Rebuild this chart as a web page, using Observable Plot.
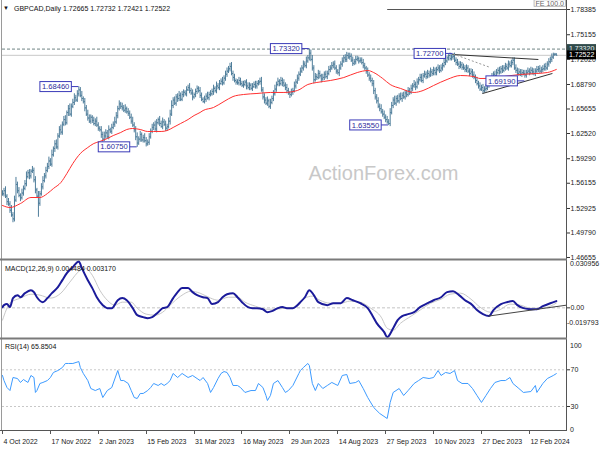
<!DOCTYPE html>
<html>
<head>
<meta charset="utf-8">
<script src="https://cdn.jsdelivr.net/npm/d3@7"></script>
<script src="https://cdn.jsdelivr.net/npm/@observablehq/plot@0.6"></script>
<style>
html,body{margin:0;padding:0;background:#fff;}
#chart{position:relative;width:600px;height:450px;overflow:hidden;background:#fff;}
#chart svg{position:absolute;left:0;}
</style>
</head>
<body>
<div id="chart"></div>
<script>
// ---------- DATA ----------
const symbol = "GBPCAD,Daily";
const lastBar = {open: 1.72665, high: 1.72732, low: 1.72421, close: 1.72522};

// daily closes, bar 0 = 4 Oct 2022
const closes = [
1.548,1.552,1.545,1.538,1.535,1.527,1.521,1.516,1.540,1.560,
1.552,1.546,1.543,1.549,1.555,1.561,1.570,1.575,1.571,1.577,
1.578,1.566,1.553,1.545,1.536,1.548,1.557,1.565,1.571,1.578,
1.583,1.590,1.586,1.598,1.606,1.612,1.608,1.622,1.630,1.627,
1.637,1.643,1.639,1.652,1.657,1.650,1.660,1.665,1.671,1.668,
1.676,1.681,1.674,1.670,1.666,1.658,1.650,1.645,1.641,1.646,
1.642,1.638,1.641,1.636,1.632,1.630,1.624,1.618,1.622,1.626,
1.621,1.630,1.628,1.633,1.637,1.640,1.648,1.657,1.663,1.660,
1.658,1.655,1.657,1.653,1.651,1.646,1.641,1.636,1.630,1.621,
1.613,1.618,1.624,1.617,1.620,1.616,1.612,1.614,1.621,1.628,
1.633,1.636,1.631,1.639,1.643,1.638,1.634,1.640,1.637,1.632,
1.634,1.641,1.650,1.661,1.668,1.664,1.672,1.670,1.674,1.669,
1.675,1.678,1.676,1.681,1.684,1.680,1.677,1.672,1.675,1.679,
1.683,1.680,1.674,1.669,1.666,1.669,1.673,1.671,1.675,1.676,
1.679,1.683,1.680,1.686,1.684,1.689,1.692,1.690,1.696,1.701,
1.705,1.708,1.711,1.702,1.697,1.693,1.691,1.690,1.693,1.689,
1.687,1.688,1.691,1.686,1.684,1.687,1.683,1.685,1.688,1.686,
1.689,1.691,1.692,1.681,1.672,1.668,1.664,1.667,1.660,1.665,
1.670,1.676,1.682,1.688,1.692,1.689,1.693,1.690,1.687,1.684,
1.680,1.677,1.675,1.678,1.680,1.686,1.691,1.696,1.701,1.705,
1.709,1.714,1.712,1.718,1.722,1.728,1.720,1.709,1.694,1.698,
1.697,1.702,1.699,1.695,1.697,1.701,1.698,1.702,1.707,1.709,
1.712,1.714,1.709,1.705,1.703,1.709,1.714,1.718,1.722,1.720,
1.725,1.723,1.724,1.719,1.715,1.717,1.720,1.721,1.718,1.719,
1.716,1.712,1.709,1.705,1.700,1.696,1.693,1.689,1.680,1.672,
1.667,1.660,1.657,1.653,1.650,1.646,1.643,1.640,1.638,1.652,
1.661,1.668,1.664,1.670,1.667,1.673,1.670,1.674,1.672,1.677,
1.675,1.680,1.678,1.683,1.686,1.688,1.685,1.691,1.694,1.697,
1.693,1.699,1.701,1.698,1.702,1.700,1.704,1.702,1.706,1.703,
1.707,1.709,1.706,1.709,1.712,1.716,1.718,1.722,1.725,1.721,
1.723,1.724,1.719,1.716,1.714,1.711,1.713,1.710,1.709,1.707,
1.709,1.705,1.702,1.704,1.700,1.697,1.693,1.689,1.686,1.682,
1.684,1.680,1.682,1.683,1.687,1.690,1.694,1.698,1.701,1.699,
1.703,1.706,1.704,1.708,1.706,1.709,1.711,1.709,1.714,1.712,
1.716,1.719,1.709,1.706,1.702,1.704,1.701,1.703,1.702,1.700,
1.703,1.705,1.703,1.706,1.704,1.702,1.705,1.707,1.708,1.705,
1.707,1.708,1.711,1.709,1.714,1.717,1.720,1.723,1.726,1.7267,1.72522
];
// wick above max(open,close) and below min(open,close), in units of 0.001
const upperWick = [
4,3,5,2,4,3,6,3,5,9, 3,4,2,5,3,4,6,3,4,2, 5,3,4,2,6,3,4,5,3,4, 4,5,3,6,2,4,5,3,4,6,
3,4,5,2,4,6,3,4,5,3, 4,4,3,5,2,4,3,5,4,3, 2,4,3,5,3,2,4,3,5,4, 3,5,2,4,3,6,4,3,4,2,
4,3,5,2,4,3,4,5,3,4, 5,3,4,2,3,5,4,3,4,3, 4,3,5,4,2,4,3,5,3,4, 3,4,5,6,3,4,3,4,5,3,
4,3,2,4,3,5,3,4,2,3, 3,2,4,3,2,4,3,5,3,4, 3,4,2,5,3,4,3,5,3,4, 4,3,4,5,3,4,2,3,4,3,
3,4,2,3,4,3,2,4,3,4, 3,2,4,5,3,4,3,5,2,4, 3,4,5,3,4,2,4,3,4,3, 4,3,2,4,3,5,3,4,3,4,
3,4,3,5,3,5,4,5,3,4, 3,4,3,2,4,3,4,3,4,3, 4,3,4,3,2,4,3,4,3,4, 4,3,4,3,4,3,4,3,2,3,
3,4,3,2,4,3,4,3,4,3, 3,4,3,5,3,4,3,4,3,5, 4,3,5,3,4,3,4,3,4,3, 3,4,3,4,3,5,3,4,3,4,
4,3,4,3,4,3,5,3,4,3, 3,4,3,4,3,4,3,2,1,3, 3,3,4,3,4,3,4,3,4,3, 4,3,3,4,3,4,3,4,3,4,
3,4,3,5,3,4,3,4,3,4, 4,3,4,3,4,3,4,3,4,3, 3,3,3,4,3,4,3,4,3,4, 3,4,3,4,3,4,3,4,3,4,
3,4,3,4,3,4,3,4,2,1,0.6
];
const lowerWick = [
3,4,3,5,3,4,3,5,4,3, 4,3,5,3,4,3,4,3,5,4, 3,4,5,3,18,4,3,4,3,4, 3,4,3,4,3,5,3,4,3,4,
4,3,4,3,5,3,4,3,4,3, 3,4,3,4,3,5,3,4,3,4, 4,3,4,3,4,3,5,4,3,4, 3,4,3,4,3,4,3,4,3,4,
4,3,4,3,4,3,4,3,4,5, 5.5,3,4,3,4,3,4,3,4,3, 3,4,3,5,3,4,2,4,3,4, 4,3,5,3,4,3,4,5,4,3,
3,4,3,4,2,4,3,5,3,4, 4,3,4,3,2,3,4,3,4,3, 3,5,3,4,3,4,2,4,3,4, 4,3,4,3,5,3,4,3,4,3,
3,4,3,5,3,4,3,4,2,4, 4,3,4,3,4,5,3,4,3,4, 3,4,3,4,3,4,3,5,3,4, 4,3,5,3,4,3,4,3,4,3,
3,4,3,4,3,4,3,4,5,3, 4,3,4,5,3,4,3,4,3,4, 3,4,3,4,3,5,3,4,3,4, 4,3,4,3,4,3,4,3,4,3,
3,4,3,4,3,4,3,4,5,4, 4,3,4,3,4,3,4,3,2.5,4, 3,4,3,4,3,4,3,5,3,4, 4,3,4,3,4,3,5,3,4,3,
3,4,3,4,3,4,3,4,3,4, 4,3,4,3,4,3,4,3,4,3, 3,4,3,4,3,4,3,4,3,4, 4,3,4,3,4,3,4,3,4,3,
3,4,3,4,3,4,3,4,3,4, 4,3,4,3,4,3,4,3,4,3, 3,4,3,4,3,4,3,4,3,4, 4,3,4,3,4,3,4,3,4,3,
3,4,3,4,3,4,3,4,3,2,1
];

// moving average (red) read at selected bars
const maIdx = [0,5,12,19,25,30,34,39,43,47,52,57,61,65,70,74,79,83,87,92,97,101,106,110,114,119,124,128,132,134,141,148,154,161,170,179,188,197,204,210,219,228,237,244,248,254,259,266,275,281,288,297,306,315,319,326,335,346,357,364,370];
const maVal = [1.5331,1.5305,1.5356,1.5433,1.5433,1.5484,1.5548,1.5625,1.5740,1.5868,1.5996,1.6073,1.6124,1.6150,1.6188,1.6226,1.6265,1.6303,1.6316,1.6303,1.6278,1.6278,1.6278,1.6290,1.6329,1.6380,1.6431,1.6482,1.6521,1.6546,1.6585,1.6662,1.6725,1.6751,1.6764,1.6777,1.6777,1.6802,1.6879,1.6905,1.6930,1.6968,1.7032,1.7058,1.7032,1.6956,1.6879,1.6828,1.6777,1.6802,1.6866,1.6943,1.6994,1.6981,1.6956,1.6956,1.6981,1.7007,1.7020,1.7032,1.7071];

// MACD(12,26,9) main line and signal line
const macdIdx = [0,1,3,5,7,10,12,15,19,21,23,27,30,33,37,40,43,47,50,51,53,57,60,63,67,70,73,77,80,83,87,90,94,97,100,104,107,110,114,117,120,124,127,130,134,137,140,144,147,150,154,157,160,164,167,170,174,177,180,184,187,190,194,197,199,202,205,208,211,217,221,226,230,234,239,244,247,250,255,257,261,264,267,271,275,279,284,288,293,297,301,305,309,314,317,321,325,328,333,337,341,344,348,353,357,361,366,370];
const macdVal = [0.0005,0.0018,0.0025,0.0005,0.0065,0.0085,0.0071,0.0098,0.0118,0.0105,0.0071,0.0038,0.0065,0.0098,0.0138,0.0185,0.0232,0.0272,0.0305,0.0309,0.0265,0.0185,0.0132,0.0071,0.0018,-0.0002,-0.0002,0.0051,0.0065,0.0051,-0.0002,-0.0049,-0.0062,-0.0069,-0.0062,-0.0029,-0.0002,0.0005,0.0065,0.0105,0.0132,0.0132,0.0105,0.0085,0.0071,0.0065,0.0025,0.0038,0.0071,0.0091,0.0098,0.0071,0.0038,0.0005,-0.0002,-0.0002,-0.0009,-0.0029,-0.0022,-0.0002,0.0005,-0.0002,-0.0002,0.0018,0.0038,0.0071,0.0118,0.0085,0.0038,0.0018,0.0031,0.0031,0.0065,0.0051,0.0031,-0.0002,-0.0049,-0.0102,-0.0162,-0.0195,-0.0136,-0.0082,-0.0055,-0.0042,-0.0029,0.0005,0.0031,0.0051,0.0071,0.0105,0.0111,0.0085,0.0051,0.0018,-0.0015,-0.0042,-0.0055,-0.0015,0.0025,0.0038,0.0045,0.0018,-0.0002,-0.0009,-0.0009,0.0011,0.0031,0.0045];
const sigIdx = [0,5,12,19,25,32,39,45,52,55,60,65,70,75,80,86,90,96,102,107,112,119,126,132,139,144,151,157,162,169,176,182,189,196,202,207,212,219,226,232,239,246,253,257,261,266,273,279,286,293,299,306,313,319,326,333,339,346,353,359,366,370];
const sigVal = [-0.0082,0.0031,0.0065,0.0091,0.0085,0.0065,0.0098,0.0172,0.0252,0.0265,0.0218,0.0118,0.0051,0.0018,0.0038,0.0038,-0.0002,-0.0042,-0.0049,-0.0029,0.0018,0.0078,0.0111,0.0098,0.0065,0.0051,0.0071,0.0071,0.0038,0.0011,-0.0009,-0.0009,-0.0002,0.0005,0.0065,0.0078,0.0051,0.0031,0.0031,0.0045,0.0038,-0.0002,-0.0062,-0.0136,-0.0149,-0.0102,-0.0055,-0.0015,0.0031,0.0058,0.0091,0.0098,0.0058,0.0005,-0.0029,-0.0009,0.0025,0.0018,-0.0002,-0.0002,0.0011,0.0032];
const macdRange = [-0.019793, 0.030956];
const macdLast = "0.004484", sigLast = "0.003170";

// RSI(14)
const rsiIdx = [0,1,3,5,7,10,12,14,17,19,21,22,23,25,27,30,32,34,37,40,42,44,47,51,52,54,57,59,62,65,67,70,73,77,79,81,84,86,88,90,92,94,97,99,101,104,106,108,110,112,114,117,120,124,127,130,132,134,137,139,141,144,146,148,150,152,154,157,159,162,166,169,171,174,176,177,179,181,184,187,189,191,194,198,199,201,204,205,207,209,211,214,217,220,224,227,230,232,236,238,241,244,248,252,257,259,261,265,268,271,275,278,281,285,288,291,293,296,299,302,304,307,311,314,317,320,323,326,329,333,336,339,341,345,348,353,356,357,361,364,368,370];
const rsiVal = [63.8,58.3,50.7,47.4,61.6,60.5,56.2,59.4,56.2,63.8,61.6,45.3,47.4,55.1,56.2,58.3,61.6,67.1,69.2,72.5,76.9,76.9,76.9,79.0,72.5,66.0,58.3,49.6,47.4,49.6,39.8,47.4,50.7,69.2,58.3,58.3,55.1,47.4,39.8,38.7,44.2,44.2,47.4,50.7,55.1,52.9,55.1,52.9,55.1,58.3,66.0,61.6,66.0,61.6,63.8,60.5,58.3,61.6,55.1,45.3,50.7,60.5,66.0,68.1,67.1,61.6,52.9,52.9,50.7,45.3,47.4,47.4,55.1,50.7,42.0,36.5,42.0,55.1,58.3,50.7,45.3,47.4,52.9,66.0,69.2,72.5,76.9,74.7,55.1,47.4,55.1,49.6,52.9,56.2,52.9,63.8,64.9,55.1,56.2,58.3,49.6,39.8,28.9,22.4,16.9,34.4,45.3,49.6,42.0,47.4,55.1,58.3,61.6,60.5,61.6,69.2,63.8,67.1,66.0,69.2,58.3,55.1,55.1,49.6,42.0,34.4,42.0,49.6,56.2,58.3,58.3,61.6,55.1,49.6,45.3,46.3,52.9,45.3,55.1,60.5,63.8,65.85];
const rsiLast = "65.8504";
const rsiLevels = [70, 30];
const rsiBounds = [100, 0];

// axis ticks
const priceTicks = [1.78385,1.75155,1.72020,1.68790,1.65655,1.62520,1.59290,1.56155,1.52925,1.49790,1.46655];
const dateIdx = [0,32,64,96,128,160,192,224,256,288,320,352];
const dateLabels = ["4 Oct 2022","17 Nov 2022","2 Jan 2023","15 Feb 2023","31 Mar 2023","16 May 2023","29 Jun 2023","14 Aug 2023","27 Sep 2023","10 Nov 2023","27 Dec 2023","12 Feb 2024"];

// annotations
const swingIdx = [51, 90, 205, 258, 301, 349];
const swingVal = [1.6846, 1.6075, 1.7332, 1.6355, 1.7270, 1.6919];
const resistLevel = 1.73320;
const feLevel = 1.78385, feStartIdx = 257, feLabel = "FE 100.0";
const trendA = {i1: 300.6, v1: 1.7263, i2: 358, v2: 1.7199};
const trendB = {i1: 320.6, v1: 1.6763, i2: 367.4, v2: 1.7020};
const trendDot = {i1: 301, v1: 1.7270, i2: 326, v2: 1.7096};
const macdTrend = {i1: 324.6, v1: -0.0055, i2: 376.8, v2: 0.0018};

// ---------- BUILD ----------
const FONT = "'Liberation Sans', Arial, sans-serif";
const BAR = "#4f7e9b";
const X_DOMAIN = [0, 376.8];
const N = closes.length;
const bars = closes.map((c, i) => {
  if (i === N - 1) return {i, o: lastBar.open, c: lastBar.close, h: lastBar.high, l: lastBar.low};
  const o = i > 0 ? closes[i - 1] : c;
  return {i, o, c, h: Math.max(o, c) + upperWick[i] / 1000, l: Math.min(o, c) - lowerWick[i] / 1000};
});
const ma = maIdx.map((i, k) => ({i, v: maVal[k]}));
const macd = macdIdx.map((i, k) => ({i, v: macdVal[k]}));
const sig = sigIdx.map((i, k) => ({i, v: sigVal[k]}));
const rsi = rsiIdx.map((i, k) => ({i, v: rsiVal[k]}));
const dates = dateIdx.map((i, k) => ({i, label: dateLabels[k]}));
const seg = t => [{x1: t.i1, y1: t.v1, x2: t.i2, y2: t.v2}];

const common = {
  width: 600, marginLeft: 2, marginRight: 34,
  x: {domain: X_DOMAIN, axis: null, label: null},
  style: {fontFamily: FONT, fontSize: "7px", color: "#1a1a1a", background: "transparent", overflow: "visible"}
};

const p1 = Plot.plot({
  ...common, height: 260, marginTop: 2, marginBottom: 2,
  y: {domain: [1.46527, 1.79281], axis: null, label: null},
  marks: [
    Plot.text(["ActionForex.com"], {frameAnchor: "middle", dx: 99, dy: 43, fontSize: 20, fill: "#c8c8c8", fontFamily: FONT}),
    Plot.ruleY([lastBar.close], {stroke: "#c8c8c8", strokeWidth: 1}),
    Plot.ruleY([resistLevel], {stroke: "#4a6464", strokeDasharray: "3,2", strokeWidth: 0.8}),
    Plot.ruleX(bars, {x: "i", y1: "l", y2: "h", stroke: BAR, strokeWidth: 1}),
    Plot.link(bars, {x1: d => d.i - 0.7, x2: "i", y1: "o", y2: "o", stroke: BAR}),
    Plot.link(bars, {x1: "i", x2: d => d.i + 0.7, y1: "c", y2: "c", stroke: BAR}),
    Plot.line(ma, {x: "i", y: "v", stroke: "#ff3030", strokeWidth: 1, curve: "monotone-x"}),
    Plot.link(seg(trendA), {x1: "x1", y1: "y1", x2: "x2", y2: "y2", stroke: "#333", strokeWidth: 1}),
    Plot.link(seg(trendB), {x1: "x1", y1: "y1", x2: "x2", y2: "y2", stroke: "#333", strokeWidth: 1}),
    Plot.link(seg(trendDot), {x1: "x1", y1: "y1", x2: "x2", y2: "y2", stroke: "#999", strokeWidth: 1, strokeDasharray: "2,2"}),
    Plot.link([{x1: feStartIdx, x2: X_DOMAIN[1], y: feLevel}], {x1: "x1", x2: "x2", y1: "y", y2: "y", stroke: "#555", strokeWidth: 1}),
    Plot.axisY({ticks: priceTicks, anchor: "right", label: null, tickSize: 3, tickPadding: 1, tickFormat: d => d.toFixed(5), fontSize: 7, stroke: "#333"})
  ]
});

const p2 = Plot.plot({
  ...common, height: 78, marginTop: 1, marginBottom: 1,
  y: {domain: macdRange, axis: null, label: null},
  marks: [
    Plot.ruleY([0], {stroke: "#c4c4c4", strokeDasharray: "3,2"}),
    Plot.line(sig, {x: "i", y: "v", stroke: "#c8c8c8", strokeWidth: 1, curve: "monotone-x"}),
    Plot.line(macd, {x: "i", y: "v", stroke: "#1b1b9a", strokeWidth: 2, curve: "monotone-x"}),
    Plot.link(seg(macdTrend), {x1: "x1", y1: "y1", x2: "x2", y2: "y2", stroke: "#444", strokeWidth: 1}),
    Plot.axisY({ticks: [0], anchor: "right", label: null, tickSize: 3, tickPadding: 1, tickFormat: () => "0.00", fontSize: 7, stroke: "#333"})
  ]
});

const p3 = Plot.plot({
  ...common, height: 112, marginTop: 3.8, marginBottom: 16.5,
  y: {domain: [0, 100], axis: null, label: null},
  marks: [
    Plot.ruleY(rsiLevels, {stroke: "#c8c8c8", strokeDasharray: "2,2"}),
    Plot.line(rsi, {x: "i", y: "v", stroke: "#3d9bff", strokeWidth: 1}),
    Plot.axisY({ticks: rsiLevels, anchor: "right", label: null, tickSize: 3, tickPadding: 1, fontSize: 7, stroke: "#333"}),
    Plot.text(dates, {x: "i", text: "label", frameAnchor: "bottom", dy: 9.5, dx: 1, textAnchor: "start", fontSize: 7})
  ]
});

const root = document.getElementById("chart");
[[p1, 0], [p2, 260], [p3, 338]].forEach(([svg, top]) => {
  svg.style.top = top + "px";
  root.appendChild(svg);
});

// ---------- overlay: frame, separators, labels ----------
function scaleFn(chart, name) {
  const sc = chart.scale(name);
  if (sc && typeof sc.apply === "function") return v => sc.apply(v);
  return d3.scaleLinear().domain(sc.domain).range(sc.range);
}
const sx = scaleFn(p1, "x"), sy = scaleFn(p1, "y");
const sy2 = scaleFn(p2, "y"), sy3 = scaleFn(p3, "y"), sx3 = scaleFn(p3, "x");
const ov = d3.select(root).append("svg").attr("width", 600).attr("height", 450)
  .style("top", "0px").style("font-family", FONT).style("font-size", "7px");

const gridStroke = "#7a7a7a";
ov.append("line").attr("x1", 1.5).attr("x2", 1.5).attr("y1", 0).attr("y2", 430).attr("stroke", "#9a9a9a");
ov.append("line").attr("x1", 566.5).attr("x2", 566.5).attr("y1", 0).attr("y2", 430).attr("stroke", "#555");
ov.append("rect").attr("x", 0).attr("y", 258.5).attr("width", 567).attr("height", 2).attr("fill", gridStroke);
ov.append("rect").attr("x", 0).attr("y", 337.5).attr("width", 567).attr("height", 2).attr("fill", gridStroke);
ov.append("line").attr("x1", 0).attr("x2", 567).attr("y1", 430.5).attr("y2", 430.5).attr("stroke", "#555");
dateIdx.forEach(i => {
  const x = Math.round(sx3(i)) + 0.5;
  ov.append("line").attr("x1", x).attr("x2", x).attr("y1", 430).attr("y2", 434).attr("stroke", "#555");
});

// MACD panel extreme labels (drawn just inside the panel, as in the terminal)
const p2Top = 260;
ov.append("text").attr("x", 570).attr("y", p2Top + sy2(macdRange[1]) + 3).attr("dy", "0.35em").attr("fill", "#1a1a1a").text(macdRange[1].toFixed(6));
ov.append("text").attr("x", 567).attr("y", p2Top + sy2(macdRange[0]) - 14).attr("dy", "0.35em").attr("fill", "#1a1a1a").text(macdRange[0].toFixed(6));
// RSI 100 / 0 labels
const p3Top = 338;
ov.append("text").attr("x", 570).attr("y", p3Top + sy3(rsiBounds[0]) + 3.9).attr("dy", "0.35em").attr("fill", "#1a1a1a").text(String(rsiBounds[0]));
ov.append("text").attr("x", 570).attr("y", p3Top + sy3(rsiBounds[1]) - 4.2).attr("dy", "0.35em").attr("fill", "#1a1a1a").text(String(rsiBounds[1]));

// titles
ov.append("text").attr("x", 3).attr("y", 10).attr("font-size", 6).attr("fill", "#111").text("▼");
ov.append("text").attr("x", 14).attr("y", 10.5).attr("fill", "#111")
  .text(`${symbol}  ${lastBar.open.toFixed(5)} ${lastBar.high.toFixed(5)} ${lastBar.low.toFixed(5)} ${lastBar.close.toFixed(5)}`);
ov.append("text").attr("x", 5).attr("y", 270.5).attr("fill", "#111").text(`MACD(12,26,9) ${macdLast} ${sigLast}`);
ov.append("text").attr("x", 5).attr("y", 349).attr("fill", "#111").text(`RSI(14) ${rsiLast}`);

// swing labels
const LBL = "#3a3ab8";
swingIdx.forEach((i, k) => {
  const x = sx(i), y = sy(swingVal[k]);
  const g = ov.append("g");
  const t = g.append("text").attr("x", x - 9).attr("y", y).attr("dy", "0.35em").attr("font-size", 7.6)
    .attr("text-anchor", "end").attr("fill", "#2a2a9a").text(swingVal[k].toFixed(5));
  const bb = t.node().getBBox();
  g.insert("rect", "text").attr("x", bb.x - 2).attr("y", y - 5).attr("width", bb.width + 4).attr("height", 10)
    .attr("fill", "#fff").attr("stroke", LBL).attr("stroke-width", 1);
  g.append("line").attr("x1", bb.x + bb.width + 2).attr("x2", x).attr("y1", y).attr("y2", y).attr("stroke", LBL);
});

// FE label
{
  const y = sy(feLevel);
  const t = ov.append("text").attr("x", 564).attr("y", y - 3.2).attr("text-anchor", "end").attr("fill", "#666").text(feLabel);
  const bb = t.node().getBBox();
  ov.insert("rect", "text").attr("x", bb.x - 1.5).attr("y", bb.y).attr("width", bb.width + 3).attr("height", bb.height - 0.5)
    .attr("fill", "none").attr("stroke", "#aaa").attr("stroke-width", 0.8);
}

// highlighted price boxes on the right axis
[[resistLevel, "#2f4a4a", "#e8f0f0"], [lastBar.close, "#000", "#fff"]].forEach(([v, bg, fg]) => {
  const y = sy(v);
  ov.append("rect").attr("x", 567).attr("y", y - 4.5).attr("width", 29).attr("height", 9).attr("fill", bg);
  ov.append("text").attr("x", 569).attr("y", y).attr("dy", "0.35em").attr("fill", fg).text(v.toFixed(5));
});
</script>
</body>
</html>
